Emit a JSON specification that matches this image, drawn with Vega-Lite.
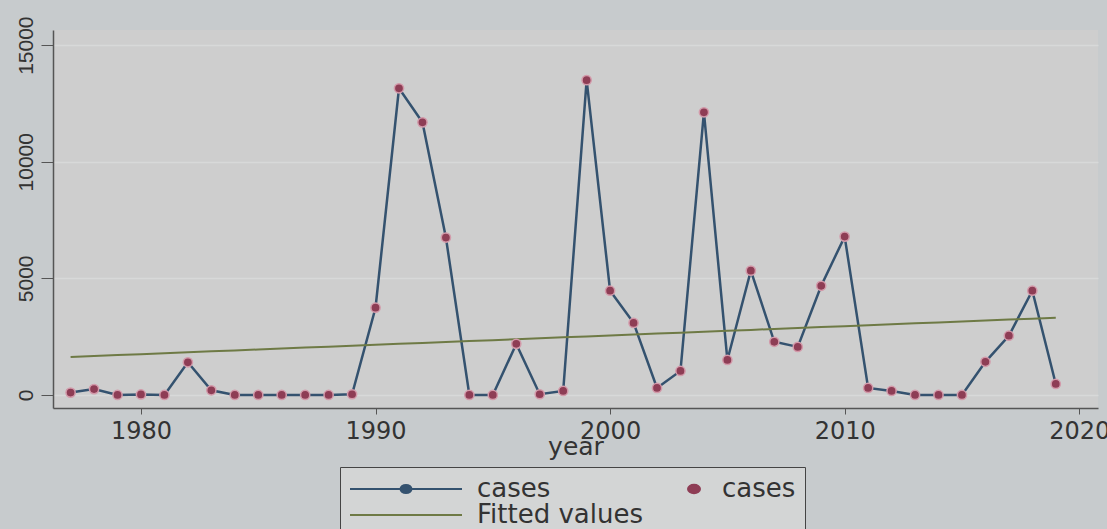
{
  "$schema": "https://vega.github.io/schema/vega-lite/v6.json",
  "width": 1045,
  "height": 378,
  "autosize": {"type": "none"},
  "padding": {"left": 53, "top": 30, "right": 9, "bottom": 121},
  "background": "#c7cbcd",
  "config": {
    "view": {"fill": "#cecece", "stroke": null},
    "axis": {"domainColor": "#555555", "domainWidth": 1.5, "tickColor": "#555555", "labelColor": "#333333", "titleColor": "#333333"}
  },
  "data": {
    "values": [
      {"year": 1977, "cases": 100, "fitted": 1630},
      {"year": 1978, "cases": 250, "fitted": 1670},
      {"year": 1979, "cases": 0, "fitted": 1710},
      {"year": 1980, "cases": 20, "fitted": 1750},
      {"year": 1981, "cases": 0, "fitted": 1790},
      {"year": 1982, "cases": 1400, "fitted": 1830},
      {"year": 1983, "cases": 200, "fitted": 1870},
      {"year": 1984, "cases": 0, "fitted": 1910},
      {"year": 1985, "cases": 0, "fitted": 1950},
      {"year": 1986, "cases": 0, "fitted": 1990},
      {"year": 1987, "cases": 0, "fitted": 2030},
      {"year": 1988, "cases": 0, "fitted": 2070},
      {"year": 1989, "cases": 30, "fitted": 2110},
      {"year": 1990, "cases": 3740, "fitted": 2150},
      {"year": 1991, "cases": 13150, "fitted": 2190},
      {"year": 1992, "cases": 11690, "fitted": 2230},
      {"year": 1993, "cases": 6750, "fitted": 2270},
      {"year": 1994, "cases": 0, "fitted": 2310},
      {"year": 1995, "cases": 0, "fitted": 2350},
      {"year": 1996, "cases": 2190, "fitted": 2390},
      {"year": 1997, "cases": 30, "fitted": 2430},
      {"year": 1998, "cases": 170, "fitted": 2470},
      {"year": 1999, "cases": 13500, "fitted": 2510},
      {"year": 2000, "cases": 4470, "fitted": 2550},
      {"year": 2001, "cases": 3090, "fitted": 2590},
      {"year": 2002, "cases": 300, "fitted": 2630},
      {"year": 2003, "cases": 1030, "fitted": 2670},
      {"year": 2004, "cases": 12120, "fitted": 2710},
      {"year": 2005, "cases": 1500, "fitted": 2750},
      {"year": 2006, "cases": 5330, "fitted": 2790},
      {"year": 2007, "cases": 2280, "fitted": 2830},
      {"year": 2008, "cases": 2060, "fitted": 2870},
      {"year": 2009, "cases": 4680, "fitted": 2910},
      {"year": 2010, "cases": 6790, "fitted": 2950},
      {"year": 2011, "cases": 300, "fitted": 2990},
      {"year": 2012, "cases": 170, "fitted": 3030},
      {"year": 2013, "cases": 0, "fitted": 3070},
      {"year": 2014, "cases": 0, "fitted": 3110},
      {"year": 2015, "cases": 0, "fitted": 3150},
      {"year": 2016, "cases": 1420, "fitted": 3190},
      {"year": 2017, "cases": 2540, "fitted": 3230},
      {"year": 2018, "cases": 4470, "fitted": 3270},
      {"year": 2019, "cases": 470, "fitted": 3310}
    ]
  },
  "encoding": {
    "x": {
      "field": "year", "type": "quantitative",
      "scale": {"domain": [1976.25, 2020.8], "nice": false, "zero": false},
      "axis": {"values": [1980, 1990, 2000, 2010, 2020], "format": "d", "grid": false, "tickSize": 6, "labelFont": "DejaVu Sans", "labelFontSize": 24, "labelPadding": 5, "labelFlush": false, "labelOverlap": false, "title": "year", "titleFont": "DejaVu Sans", "titleFontSize": 25, "titleFontWeight": "normal", "titlePadding": -9}
    }
  },
  "layer": [
    {
      "mark": {"type": "line", "strokeWidth": 2.5},
      "encoding": {
        "y": {
          "field": "cases", "type": "quantitative",
          "scale": {"domain": [-560, 15650], "nice": false, "zero": false},
          "axis": {"values": [0, 5000, 10000, 15000], "format": "d", "title": null, "grid": true, "gridColor": "#d8d9d9", "gridWidth": 1.5, "tickSize": 12, "labelAngle": -90, "labelAlign": "center", "labelBaseline": "bottom", "labelPadding": 5, "labelFont": "Liberation Sans", "labelFontSize": 21, "labelFlush": false}
        },
        "color": {
          "datum": "cases_line",
          "scale": {"domain": ["cases_line", "cases_point", "Fitted values"], "range": ["#34526f", "#8e3d55", "#6e7a45"]},
          "legend": {
            "title": null,
            "orient": "none",
            "legendX": 287,
            "legendY": 437,
            "direction": "horizontal",
            "columns": 2,
            "columnPadding": 0,
            "rowPadding": 0,
            "padding": 9,
            "fillColor": "#d3d5d5",
            "strokeColor": "#444444",
            "symbolSize": 400,
            "labelOffset": 102,
            "labelFont": "DejaVu Sans",
            "labelFontSize": 26,
            "labelColor": "#333333",
            "labelLimit": 400,
            "labelExpr": "datum.value === 'Fitted values' ? 'Fitted values' : 'cases'",
            "encode": {
              "labels": {
                "update": {
                  "dx": {"signal": "datum.value === 'cases_point' ? -50 : 0"}
                }
              },
              "symbols": {
                "update": {
                  "shape": {"signal": "datum.value === 'cases_line' ? 'M-1.2,0H10M3.85,0A0.55,0.4 0 1,0 4.95,0A0.55,0.4 0 1,0 3.85,0Z' : datum.value === 'cases_point' ? 'M3.1,0A0.6,0.42 0 1,0 4.3,0A0.6,0.42 0 1,0 3.1,0Z' : 'M-1.2,0H10'"},
                  "fill": {"signal": "datum.value === 'cases_line' ? '#3f6a8c' : scale('color', datum.value)"},
                  "stroke": {"signal": "scale('color', datum.value)"},
                  "strokeWidth": {"value": 2},
                  "opacity": {"value": 1}
                }
              }
            }
          }
        }
      }
    },
    {
      "mark": {"type": "line", "strokeWidth": 2},
      "encoding": {
        "y": {"field": "fitted", "type": "quantitative"},
        "color": {"datum": "Fitted values"}
      }
    },
    {
      "mark": {"type": "point", "filled": true, "size": 85, "opacity": 1, "stroke": "#d39aaa", "strokeWidth": 1.5},
      "encoding": {
        "y": {"field": "cases", "type": "quantitative"},
        "color": {"datum": "cases_point"}
      }
    }
  ]
}
